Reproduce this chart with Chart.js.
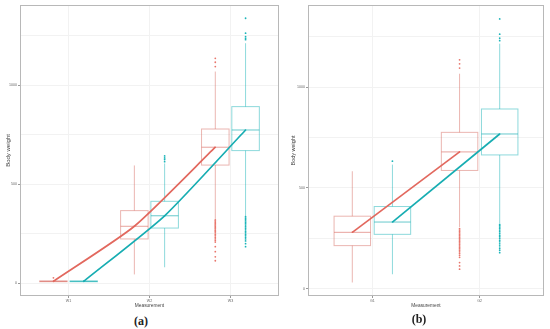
<!DOCTYPE html>
<html>
<head>
<meta charset="utf-8">
<script src="https://cdn.jsdelivr.net/npm/chart.js@4"></script>
<style>
  body { margin: 0; background: #fff; width: 550px; height: 329px; position: relative; overflow: hidden; }
  canvas { position: absolute; top: 0; }
  #chartA { left: 0; }
  #chartB { left: 285px; }
  .cap { position: absolute; font-family: 'Liberation Serif', serif; font-weight: bold; font-size: 12px; color: #222; transform: translate(-50%, -50%); }
</style>
</head>
<body>
<canvas id="chartA" width="285" height="312"></canvas>
<canvas id="chartB" width="265" height="312"></canvas>
<div class="cap" style="left:141px; top:321px;">(a)</div>
<div class="cap" style="left:419px; top:319px;">(b)</div>
<script>
// box summaries: [lower whisker, q1, median, q3, upper whisker]
const catsA = ['W1', 'W2', 'W3'];
const redBoxA = [[6, 8, 10, 12, 15], [45, 224, 288, 367, 595], [325, 597, 687, 779, 1069]];
const tealBoxA = [[6, 8, 10, 12, 15], [81, 279, 341, 414, 605], [340, 670, 774, 892, 1212]];
const redOutA = [[28], [], [1094, 1116, 1136, 320, 314, 308, 301, 295, 288, 281, 275, 268, 262, 255, 247, 240, 232, 224, 216, 208, 185, 160, 134, 114]];
const tealOutA = [[], [614, 625, 633, 643], [1230, 1237, 1245, 1263, 1338, 336, 329, 322, 315, 308, 301, 294, 286, 278, 270, 262, 255, 247, 240, 232, 224, 214, 200, 185]];

const catsB = ['G1', 'G2'];
const redBoxB = [[30, 213, 279, 359, 582], [305, 586, 678, 775, 1066]];
const tealBoxB = [[71, 269, 330, 407, 615], [325, 663, 767, 891, 1215]];
const redOutB = [[], [1094, 1115, 1135, 297, 290, 283, 276, 269, 262, 255, 248, 241, 234, 227, 220, 212, 205, 198, 190, 182, 174, 165, 155, 129, 112, 96]];
const tealOutB = [[632], [1230, 1242, 1262, 1338, 318, 312, 305, 298, 290, 282, 274, 265, 258, 250, 240, 232, 222, 212, 200, 190, 178]];

const yTicks = [0, 250, 500, 750, 1000, 1250];

const RED = '#E2685E';
const TEAL = '#17ADB2';
const DODGE = 0.187;
const HALF = 0.17;

function boxPlugin(groups) {
  return {
    id: 'boxes',
    beforeDatasetsDraw(chart) {
      const { ctx, chartArea: a, scales: { x, y } } = chart;
      ctx.save();
      // panel frame
      ctx.strokeStyle = '#b8b8b8';
      ctx.lineWidth = 1;
      ctx.strokeRect(Math.round(a.left) + 0.5, Math.round(a.top) + 0.5, Math.round(a.width) - 1, Math.round(a.height) - 1);
      groups.forEach(g => {
        g.boxes.forEach((b, i) => {
          const c = i + 1 + g.off;
          const xl = x.getPixelForValue(c - HALF);
          const xr = x.getPixelForValue(c + HALF);
          const xc = x.getPixelForValue(c);
          const [lo, q1, med, q3, hi] = b.map(v => y.getPixelForValue(v));
          ctx.strokeStyle = g.box;
          ctx.lineWidth = 1;
          ctx.beginPath();
          ctx.moveTo(xc, lo); ctx.lineTo(xc, q1);
          ctx.moveTo(xc, q3); ctx.lineTo(xc, hi);
          ctx.stroke();
          ctx.strokeRect(xl, q3, xr - xl, q1 - q3);
          ctx.strokeStyle = g.med;
          ctx.beginPath();
          ctx.moveTo(xl, med); ctx.lineTo(xr, med);
          ctx.stroke();
        });
      });
      ctx.restore();
    }
  };
}

function outlierPoints(outs, off) {
  const pts = [];
  outs.forEach((list, i) => list.forEach(v => pts.push({ x: i + 1 + off, y: v })));
  return pts;
}

function makeChart(id, cats, redBox, tealBox, redOut, tealOut, yMin, yMax, yAxisW, yTitleSize, tension) {
  const axisFont = { family: 'Liberation Sans', size: 3.6 };
  return new Chart(document.getElementById(id), {
    type: 'scatter',
    data: {
      datasets: [
        {
          data: outlierPoints(redOut, -DODGE),
          backgroundColor: '#E8766C', borderWidth: 0, pointRadius: 0.9
        },
        {
          data: outlierPoints(tealOut, DODGE),
          backgroundColor: '#1CB5B9', borderWidth: 0, pointRadius: 0.9
        },
        {
          data: redBox.map((b, i) => ({ x: i + 1 - DODGE, y: b[2] })),
          showLine: true, borderColor: RED, backgroundColor: RED, borderWidth: 1.7,
          pointRadius: 0.8, pointBorderWidth: 0, tension: tension
        },
        {
          data: tealBox.map((b, i) => ({ x: i + 1 + DODGE, y: b[2] })),
          showLine: true, borderColor: TEAL, backgroundColor: TEAL, borderWidth: 1.7,
          pointRadius: 0.8, pointBorderWidth: 0, tension: tension
        }
      ]
    },
    options: {
      responsive: false,
      animation: false,
      devicePixelRatio: 1,
      layout: { padding: { top: 5, right: 6, left: 0, bottom: 0 } },
      plugins: { legend: { display: false }, tooltip: { enabled: false } },
      scales: {
        x: {
          type: 'linear',
          min: 0.4,
          max: cats.length + 0.6,
          afterBuildTicks: s => { s.ticks = cats.map((c, i) => ({ value: i + 1 })); },
          afterFit: s => { s.height = 16; },
          ticks: {
            font: axisFont, color: '#666', padding: 1, maxRotation: 0,
            callback: v => cats[v - 1] || ''
          },
          grid: { color: '#f2f2f2', tickColor: '#999', tickLength: 2 },
          border: { display: false },
          title: {
            display: true, text: 'Measurement', color: '#444',
            font: { family: 'Liberation Sans', size: 4.8 }, padding: { top: 0, bottom: 3 }
          }
        },
        y: {
          min: yMin,
          max: yMax,
          afterBuildTicks: s => { s.ticks = yTicks.map(v => ({ value: v })); },
          afterFit: s => { s.width = yAxisW; },
          ticks: {
            font: axisFont, color: '#666', padding: 1,
            callback: v => (v % 500 === 0 ? v : '')
          },
          grid: {
            color: '#f2f2f2', tickLength: 2,
            tickColor: c => (c.tick && c.tick.value % 500 === 0 ? '#999' : 'rgba(0,0,0,0)')
          },
          border: { display: false },
          title: {
            display: true, text: 'Body weight', color: '#444',
            font: { family: 'Liberation Sans', size: yTitleSize }, padding: { top: 5, bottom: 0 }
          }
        }
      }
    },
    plugins: [boxPlugin([
      { boxes: redBox, off: -DODGE, box: 'rgba(215,110,100,0.5)', med: 'rgba(215,100,90,0.6)' },
      { boxes: tealBox, off: DODGE, box: 'rgba(0,170,176,0.45)', med: 'rgba(0,165,170,0.6)' }
    ])]
  });
}

makeChart('chartA', catsA, redBoxA, tealBoxA, redOutA, tealOutA, -64, 1405, 20, 6, 0.2);
makeChart('chartB', catsB, redBoxB, tealBoxB, redOutB, tealOutB, -37, 1407, 23, 5.5, 0);
</script>
</body>
</html>
